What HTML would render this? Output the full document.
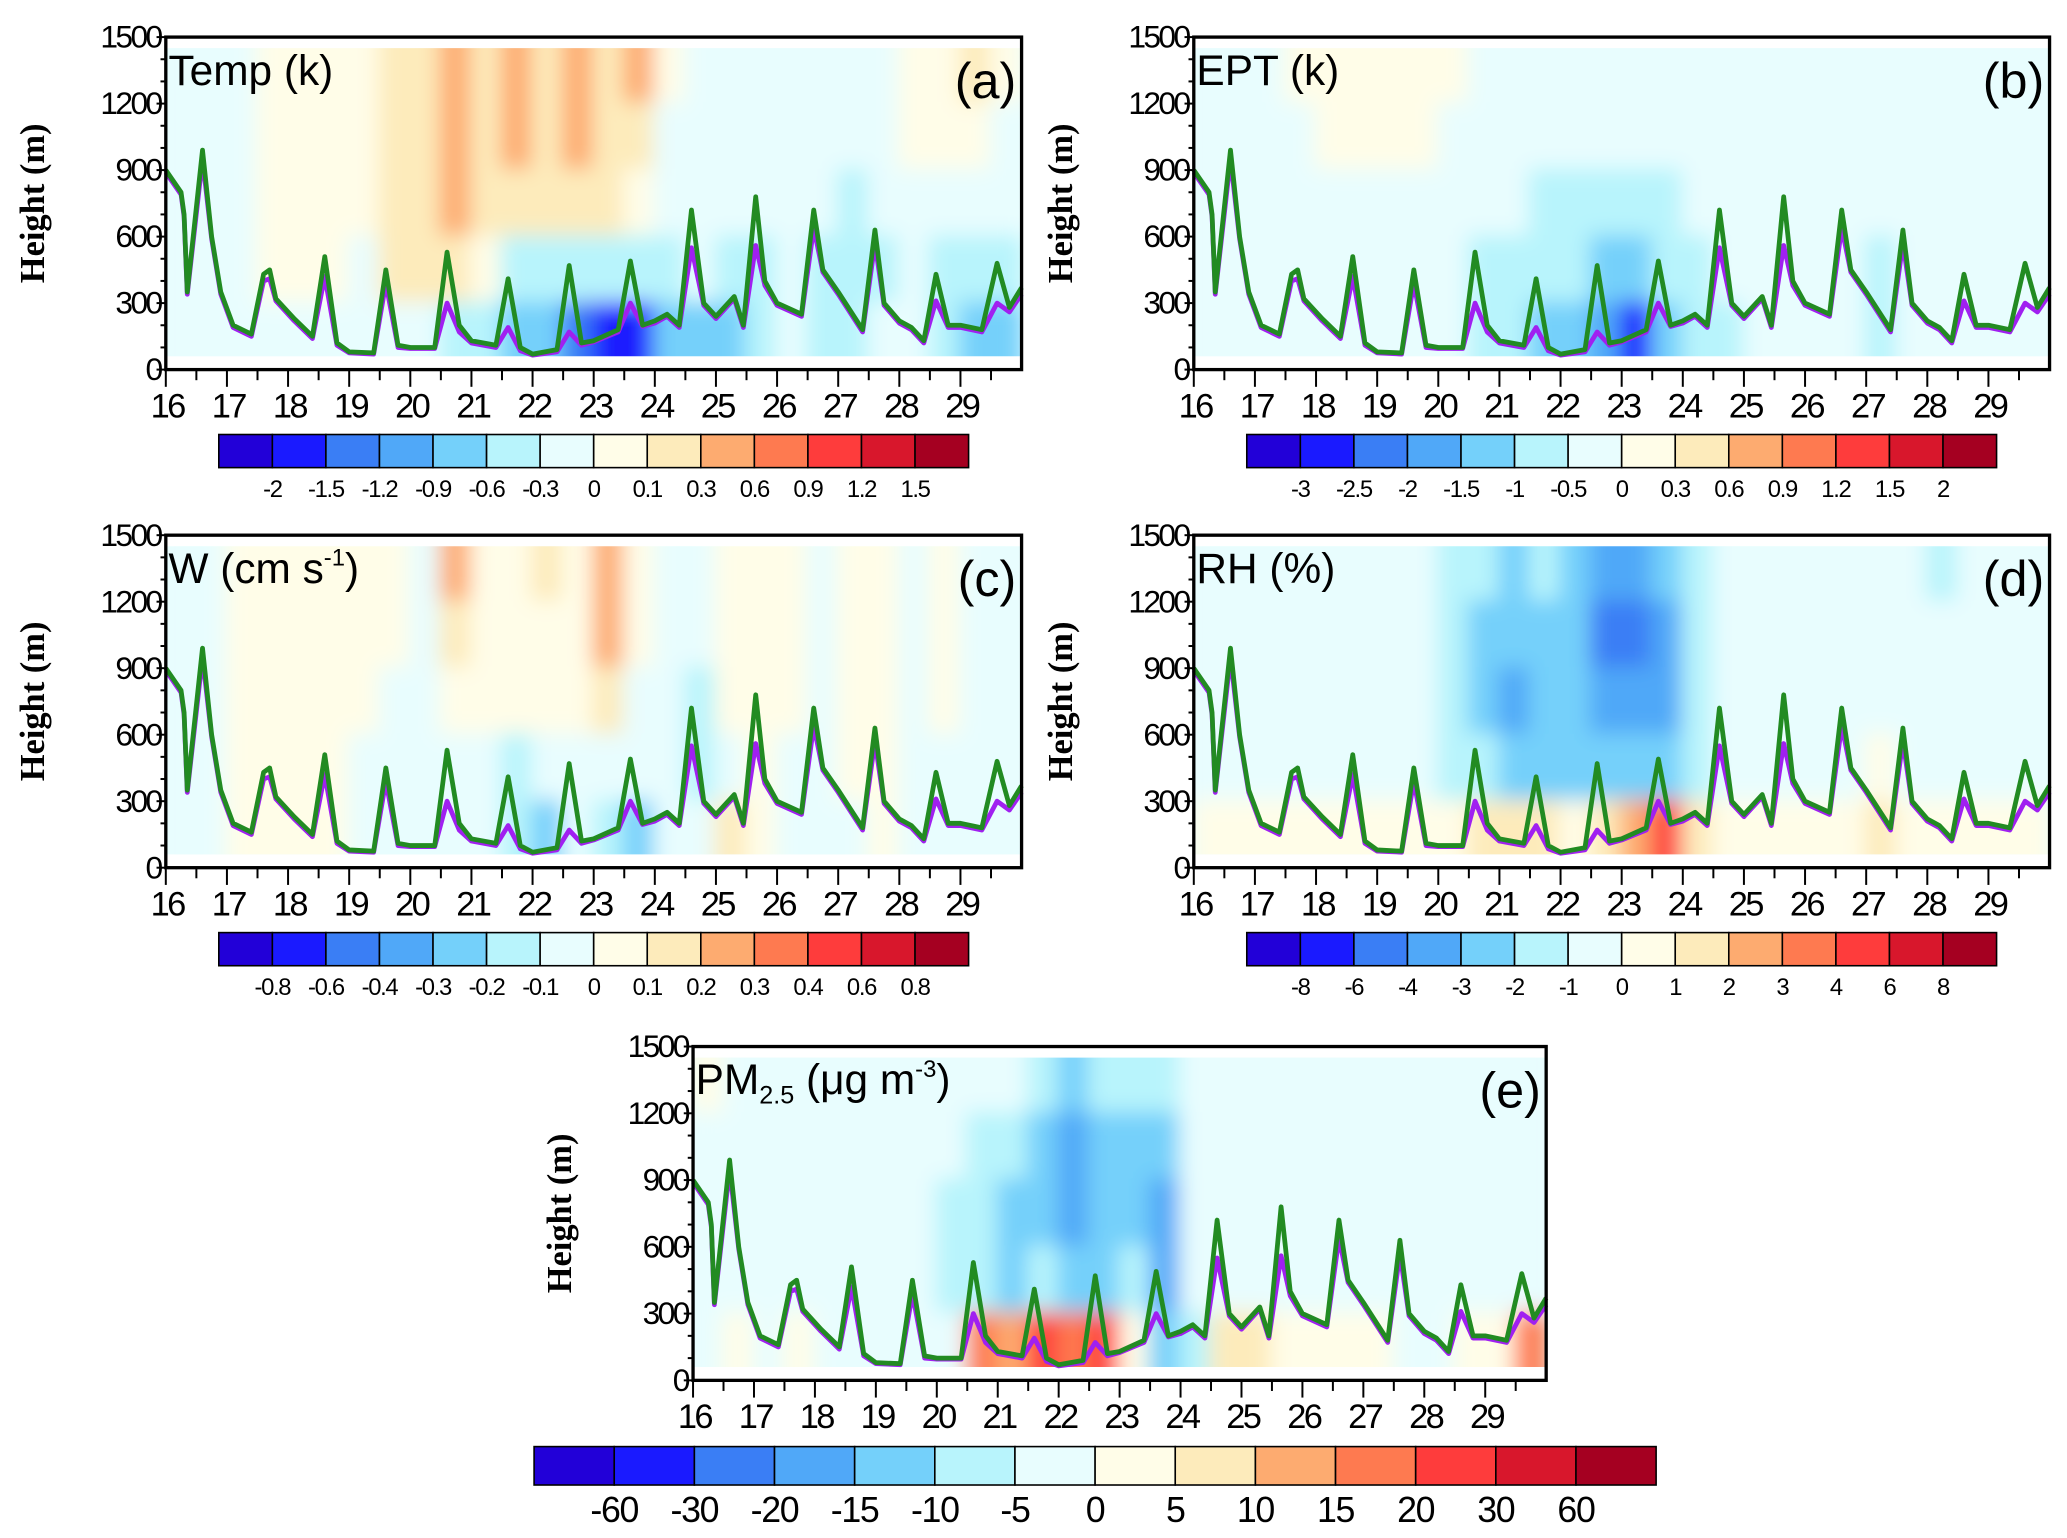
<!DOCTYPE html>
<html><head><meta charset="utf-8"><style>
html,body{margin:0;padding:0;background:#fff;}
svg{display:block;}
text{font-family:"Liberation Sans",sans-serif;fill:#000;}
</style></head><body>
<svg id="fig" width="2067" height="1538" viewBox="0 0 1560 1161" xmlns="http://www.w3.org/2000/svg">
<defs>
<filter id="blur" x="-5%" y="-5%" width="110%" height="110%"><feGaussianBlur stdDeviation="8"/></filter>
</defs>
</svg>
<script>
// ---- shared data ----
const colors = ["#2200d8","#1a1aff","#3a7ef5","#50a8f8","#74d0fa","#b8f4fc","#e8fdfe","#fffde8","#fdebbb","#fdab70","#fe7a50","#fe3c3c","#d8172c","#a50021"];
const dayTicks = [16,17,18,19,20,21,22,23,24,25,26,27,28,29];
const heightTicks = [0,300,600,900,1200,1500];
const rowBounds = [1450,1200,900,600,300,60];
const pblTimes = [16.0,16.25,16.3,16.35,16.6,16.75,16.9,17.1,17.4,17.6,17.7,17.8,18.1,18.4,18.6,18.8,19.0,19.4,19.6,19.8,20.0,20.4,20.6,20.8,21.0,21.4,21.6,21.8,22.0,22.4,22.6,22.8,23.0,23.4,23.6,23.8,24.0,24.2,24.4,24.6,24.8,25.0,25.3,25.45,25.65,25.8,26.0,26.4,26.6,26.75,27.0,27.4,27.6,27.75,28.0,28.2,28.4,28.6,28.8,29.0,29.35,29.6,29.8,30.0];
const pblGreen = [900,800,700,350,990,600,350,200,160,430,450,320,230,150,510,120,80,75,450,110,100,100,530,200,130,110,410,100,70,90,470,120,130,180,490,200,220,250,200,720,300,240,330,200,780,400,300,250,720,450,350,180,630,300,220,190,130,430,200,200,180,480,280,370];
const pblPurple = [890,790,690,340,950,590,340,190,150,400,410,310,220,140,420,110,75,70,390,100,95,95,300,170,120,100,190,85,65,80,170,110,125,170,300,195,210,240,190,550,290,230,320,190,560,380,290,240,640,440,340,170,570,290,210,180,120,310,190,190,170,300,260,340];

const panelA = [
[6,6,6,7,7,7,7,8,8,9,8,9,8,9,8,9,7,6,6,6,6,6,6,6,7,7,8,7],
[6,6,6,7,7,7,7,8,8,9,8,9,8,9,8,8,6,6,6,6,6,6,6,6,7,7,7,6],
[6,6,6,7,7,7,7,8,8,9,8,8,8,8,8,7,6,6,6,6,6,6,5,6,6,6,6,6],
[6,6,6,7,7,7,6,8,8,8,7,5,5,5,5,5,5,6,5,5,6,5,5,5,6,5,5,5],
[6,6,6,6,6,6,6,6,6,5,5,4,4,2,1,1,4,4,4,5,6,5,5,6,6,5,4,4]];
const panelB = [
[6,6,6,7,7,7,7,7,7,6,6,6,6,6,6,6,6,6,6,6,6,6,6,6,6,6,6,6],
[6,6,6,6,7,7,7,7,6,6,6,6,6,6,6,6,6,6,6,6,6,6,6,6,6,6,6,6],
[6,6,6,6,6,6,6,6,6,6,6,5,5,5,5,5,6,6,6,6,6,6,6,6,6,6,6,6],
[6,6,6,6,6,6,6,6,6,5,5,5,5,4,4,5,5,6,6,6,6,6,5,6,6,6,6,6],
[6,6,6,6,6,6,6,6,6,5,5,4,4,3,1,4,5,5,6,6,6,6,5,6,6,6,6,6]];
const panelC = [
[6,6,7,7,7,7,7,7,6,9,7,7,8,7,9,7,6,6,7,7,7,6,7,7,6,7,6,6],
[6,6,7,7,7,7,7,7,6,8,7,7,7,7,9,7,6,6,7,7,7,6,7,7,6,7,6,6],
[6,6,7,7,7,7,7,6,6,7,7,7,7,7,8,6,6,5,7,7,7,6,7,7,6,7,6,6],
[6,6,7,7,7,7,6,6,6,6,6,5,6,6,6,6,6,5,6,7,6,6,7,7,6,6,6,6],
[6,6,7,7,7,7,6,6,6,6,6,5,4,6,5,4,6,6,8,7,6,6,6,7,6,6,6,6]];
const panelD = [
[6,6,6,6,6,6,6,6,5,5,4,5,4,3,3,4,5,6,6,6,6,6,6,6,5,6,6,6],
[6,6,6,6,6,6,6,6,5,4,4,4,4,2,2,3,5,6,6,6,6,6,6,6,6,6,6,6],
[6,6,6,6,6,6,6,6,5,4,3,4,4,3,3,3,5,6,6,6,6,6,6,6,6,6,6,6],
[6,6,6,6,6,6,6,6,5,5,4,4,4,4,4,4,5,6,6,6,6,6,7,6,6,6,6,6],
[7,7,7,7,7,7,7,7,7,8,8,8,7,8,9,11,8,7,7,7,7,7,8,7,7,7,7,7]];
const panelE = [
[7,6,6,6,6,6,6,6,6,6,6,5,4,5,5,5,6,6,6,6,6,6,6,6,6,6,6,6],
[6,6,6,6,6,6,6,6,6,5,5,4,3,4,4,4,6,6,6,6,6,6,6,6,6,6,6,6],
[6,6,6,6,6,6,6,6,5,5,4,4,3,4,4,3,6,6,6,6,6,6,6,6,6,6,6,6],
[6,6,6,6,6,6,6,6,5,5,4,5,4,4,5,3,6,6,6,6,6,6,6,6,6,6,6,6],
[6,7,6,7,6,6,6,6,6,10,9,11,10,11,7,4,5,8,8,7,7,7,7,6,6,7,7,10]];

const labelsA = ["-2","-1.5","-1.2","-0.9","-0.6","-0.3","0","0.1","0.3","0.6","0.9","1.2","1.5"];
const labelsB = ["-3","-2.5","-2","-1.5","-1","-0.5","0","0.3","0.6","0.9","1.2","1.5","2"];
const labelsC = ["-0.8","-0.6","-0.4","-0.3","-0.2","-0.1","0","0.1","0.2","0.3","0.4","0.6","0.8"];
const labelsD = ["-8","-6","-4","-3","-2","-1","0","1","2","3","4","6","8"];
const labelsE = ["-60","-30","-20","-15","-10","-5","0","5","10","15","20","30","60"];

const NS="http://www.w3.org/2000/svg";
const svg=document.getElementById('fig');
function mk(tag,attrs,parent){const e=document.createElementNS(NS,tag);for(const k in attrs)e.setAttribute(k,attrs[k]);(parent||svg).appendChild(e);return e;}

function panel(id,L,R,T,B,grid,title,letter,cb,labels){
  const g=mk('g',{});
  
  
  const xs=d=>L+(d-16)*(R-L)/14;
  const ys=h=>B-h*(B-T)/1500;
  const cp=mk('clipPath',{id:'clip'+id},g);
  mk('rect',{x:xs(16),y:ys(1450),width:xs(30)-xs(16),height:ys(60)-ys(1450)},cp);
  const field=mk('g',{'clip-path':'url(#clip'+id+')'},g);
  
  
  mk('rect',{x:xs(16),y:ys(1450),width:xs(30)-xs(16),height:ys(60)-ys(1450),fill:colors[6]},field);
  const bl=mk('g',{filter:'url(#blur)'},field);
  for(let r=0;r<grid.length;r++){
    for(let c=0;c<grid[r].length;c++){
      const d0=16+c*0.5, x0=xs(d0)-1, x1=xs(d0+0.5)+1;
      const y0=ys(r===0?1650:rowBounds[r])-1, y1=ys(r===grid.length-1?-150:rowBounds[r+1])+1;
      const cell=mk('rect',{x:x0,y:y0,width:x1-x0,height:y1-y0,fill:colors[grid[r][c]]},bl);
      
      
    }
  }
  const pathOf=vals=>pblTimes.map((t,i)=>(i?'L':'M')+xs(t).toFixed(1)+' '+ys(vals[i]).toFixed(1)).join(' ');
  const pl=mk('path',{d:pathOf(pblPurple),fill:'none',stroke:'#a020f0','stroke-width':3.6,'stroke-linejoin':'round'},g);
  
  
  const gl=mk('path',{d:pathOf(pblGreen),fill:'none',stroke:'#228b22','stroke-width':3.6,'stroke-linejoin':'round'},g);
  
  
  const fr=mk('rect',{x:L,y:T,width:R-L,height:B-T,fill:'none',stroke:'#000','stroke-width':2.5},g);
  
  
  for(let h=0;h<=1500;h+=100){
    const major=h%300===0;
    mk('line',{x1:L-(major?7:4),x2:L,y1:ys(h),y2:ys(h),stroke:'#000','stroke-width':1.5},g);
  }
  heightTicks.forEach(h=>{
    const t=mk('text',{x:L-4,y:ys(h)+8,'text-anchor':'end','font-size':24,'letter-spacing':-2},g);
    t.textContent=h;
    
    
  });
  for(let d=16;d<30;d+=0.5){
    const major=Number.isInteger(d);
    mk('line',{x1:xs(d),x2:xs(d),y1:B,y2:B+(major?13:8),stroke:'#000','stroke-width':1.5},g);
  }
  dayTicks.forEach(d=>{
    const t=mk('text',{x:xs(d)+1,y:B+36,'text-anchor':'middle','font-size':26,'letter-spacing':-2},g);
    t.textContent=d;
    
    
  });
  const yt=mk('text',{transform:`translate(${L-92},${(T+B)/2}) rotate(-90)`,'text-anchor':'middle','font-size':26,'font-weight':'bold',style:'font-family:"Liberation Serif",serif'},g);
  yt.textContent='Height (m)';
  
  
  const tt=mk('text',{x:L+2,y:T+36,'font-size':32},g);
  tt.innerHTML=title;
  
  
  const lt=mk('text',{x:R-4,y:T+46,'text-anchor':'end','font-size':38},g);
  lt.textContent=letter;
  
  
  const [cx,cy,cw,ch,fs,ly]=cb;
  const cbg=mk('g',{},g);
  
  
  const bw=cw/colors.length;
  colors.forEach((c,i)=>{
    const r=mk('rect',{x:cx+i*bw,y:cy,width:bw,height:ch,fill:c,stroke:'#000','stroke-width':1.2},cbg);
    
    
  });
  labels.forEach((s,i)=>{
    const t=mk('text',{x:cx+(i+1)*bw,y:ly,'text-anchor':'middle','font-size':fs,'letter-spacing':-1},cbg);
    t.textContent=s;
    
    
  });
}
panel('a',125,771,28,279,panelA,'Temp (k)','(a)',[165,328,566,25,18,375],labelsA);
panel('b',901,1547,28,279,panelB,'EPT (k)','(b)',[941,328,566,25,18,375],labelsB);
panel('c',125,771,404,655,panelC,'W (cm s<tspan font-size="18" dy="-13">-1</tspan><tspan dy="13">)</tspan>','(c)',[165,704,566,25,18,751],labelsC);
panel('d',901,1547,404,655,panelD,'RH (%)','(d)',[941,704,566,25,18,751],labelsD);
panel('e',523,1167,790,1042,panelE,'PM<tspan font-size="19" dy="7">2.5</tspan><tspan dy="-7"> (μg m</tspan><tspan font-size="18" dy="-13">-3</tspan><tspan dy="13">)</tspan>','(e)',[403,1092,847,29,27,1149],labelsE);
</script>
</body></html>
